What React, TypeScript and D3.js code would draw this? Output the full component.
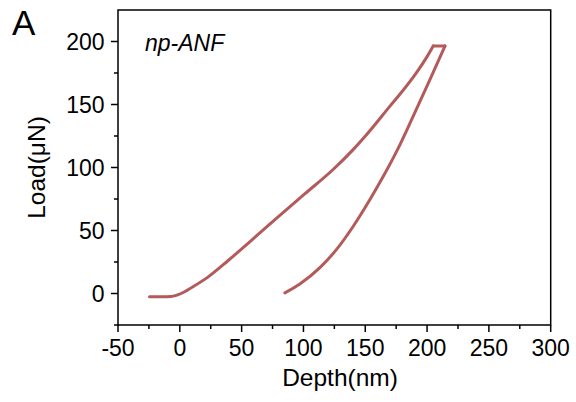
import React from "react";
import * as d3 from "d3";

const loadDepth = [-24.5, -15, -7, -3, 1, 10, 22.7, 38.9, 57.7, 79.3, 101, 124, 140, 151, 170, 180, 191.6, 200, 205];
const loadForce = [-2.5, -2.5, -2.3, -1.5, 0, 5, 13, 26, 42, 60.6, 79, 98.4, 114, 126, 148.7, 160.5, 175.5, 188, 196.5];
const holdDepth = [205, 214.5];
const holdForce = [196.5, 196.5];
const unloadDepth = [85, 97.1, 113.3, 126.8, 140.3, 153.8, 164.6, 176.5, 188.9, 202.4, 214.5];
const unloadForce = [0.5, 7.5, 20.5, 35, 53.4, 74.6, 93, 115, 141, 170, 196.5];

const xTicks = [-50, 0, 50, 100, 150, 200, 250, 300];
const yTicks = [0, 50, 100, 150, 200];
const xMinor = [-25, 25, 75, 125, 175, 225, 275];
const yMinor = [-25, 25, 75, 125, 175];

const W = 576, H = 402;
const L = 118, R = 550.7, T = 10, B = 325;
const FONT = "'Liberation Sans', Arial, sans-serif";
const COLOR = "#b35a5a";

export default function App() {
  const x = d3.scaleLinear().domain([-50, 300]).range([L, R]);
  const y = d3.scaleLinear().domain([-25, 225]).range([B, T]);
  const line = d3.line<[number, number]>().x(d => x(d[0])).y(d => y(d[1])).curve(d3.curveMonotoneX);
  const straight = d3.line<[number, number]>().x(d => x(d[0])).y(d => y(d[1]));
  const loading = loadDepth.map((d, i) => [d, loadForce[i]] as [number, number]);
  const hold = holdDepth.map((d, i) => [d, holdForce[i]] as [number, number]);
  const unloading = unloadDepth.map((d, i) => [d, unloadForce[i]] as [number, number]);
  const stroke = { fill: "none", stroke: COLOR, strokeWidth: 3, strokeLinejoin: "round" as const, strokeLinecap: "round" as const };
  return (
    <svg width={W} height={H} style={{ position: "absolute", left: 0, top: 0, background: "#fff" }} fontFamily={FONT}>
      <rect x={0} y={0} width={W} height={H} fill="#fff" />
      <path d={line(loading) || ""} {...stroke} />
      <path d={straight(hold) || ""} {...stroke} />
      <path d={line(unloading) || ""} {...stroke} />
      <rect x={L} y={T} width={R - L} height={B - T} fill="none" stroke="#000" strokeWidth={1.5} />
      {xTicks.map(t => (
        <g key={"x" + t}>
          <line x1={x(t)} x2={x(t)} y1={B} y2={B + 7} stroke="#000" strokeWidth={1.5} />
          <text x={x(t)} y={356} textAnchor="middle" fontSize={23}>{t}</text>
        </g>
      ))}
      {xMinor.map(t => (
        <line key={"xm" + t} x1={x(t)} x2={x(t)} y1={B} y2={B + 4} stroke="#000" strokeWidth={1.5} />
      ))}
      {yTicks.map(t => (
        <g key={"y" + t}>
          <line x1={L - 7} x2={L} y1={y(t)} y2={y(t)} stroke="#000" strokeWidth={1.5} />
          <text x={104.5} y={y(t) + 8.3} textAnchor="end" fontSize={23}>{t}</text>
        </g>
      ))}
      {yMinor.map(t => (
        <line key={"ym" + t} x1={L - 4} x2={L} y1={y(t)} y2={y(t)} stroke="#000" strokeWidth={1.5} />
      ))}
      <text x={340} y={386} textAnchor="middle" fontSize={24.5}>Depth(nm)</text>
      <text transform={`translate(45, ${(T + B) / 2}) rotate(-90)`} textAnchor="middle" fontSize={24.5}>Load(μN)</text>
      <text x={12} y={35} fontSize={35}>A</text>
      <text x={145} y={51} fontSize={23} fontStyle="italic">np-ANF</text>
    </svg>
  );
}
